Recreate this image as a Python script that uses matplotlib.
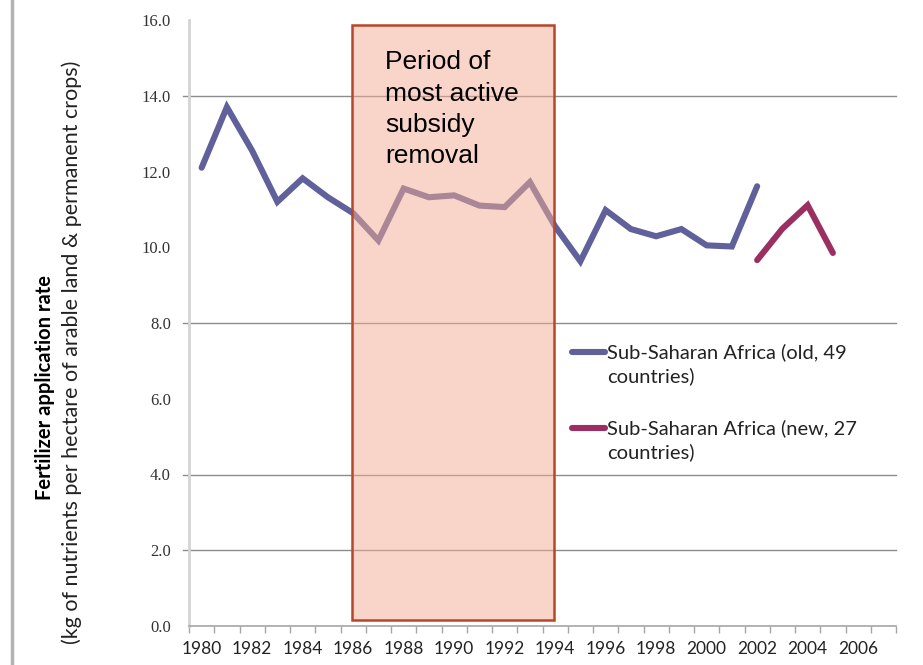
import numpy as np
import matplotlib.pyplot as plt
from matplotlib.patches import Rectangle
from matplotlib.lines import Line2D

years_old = list(range(1980, 2003))
rate_old = [12.1, 13.7, 12.55, 11.2, 11.82, 11.32, 10.9, 10.18, 11.55, 11.32, 11.37,
            11.1, 11.06, 11.72, 10.55, 9.63, 10.98, 10.48, 10.29, 10.48, 10.05, 10.02, 11.61]
years_new = [2002, 2003, 2004, 2005]
rate_new = [9.66, 10.49, 11.11, 9.85]
series_names = ['Sub-Saharan Africa (old, 49\ncountries)',
                'Sub-Saharan Africa (new, 27\ncountries)']
series_colors = ['#60609a', '#9c2f62']
ytick_vals = [0, 2, 4, 6, 8, 10, 12, 14, 16]
grid_vals = [2, 4, 8, 14]
xlabel_years = list(range(1980, 2007, 2))
period = (1985.95, 1993.95)   # subsidy removal shading, in years

plt.rcParams['hatch.color'] = '#fbe6de'
plt.rcParams['hatch.linewidth'] = 0.5

fig = plt.figure(figsize=(9.23, 6.65), dpi=100)
ax = fig.add_axes([189/923, 1-626/665, (896-189)/923, (626-20)/665])
ax.set_xlim(1979.5, 2007.5)
ax.set_ylim(0, 16)

# gridlines (only a few visible in the original)
for g in grid_vals:
    ax.plot([-0.009, 1], [g, g], transform=ax.get_yaxis_transform(),
            color='#8c8c8c', lw=1.0, clip_on=False, zorder=1)

ax.plot(years_old, rate_old, color=series_colors[0], lw=4.4,
        solid_capstyle='round', solid_joinstyle='miter', zorder=2)
ax.plot(years_new, rate_new, color=series_colors[1], lw=4.4,
        solid_capstyle='round', solid_joinstyle='miter', zorder=2)

ax.add_patch(Rectangle((period[0], 0.16), period[1]-period[0], 15.7,
                       facecolor=(0.96, 0.68, 0.58, 0.5), edgecolor='none',
                       hatch='++++', zorder=3))
ax.add_patch(Rectangle((period[0], 0.16), period[1]-period[0], 15.7,
                       facecolor='none', edgecolor='#b9462a', lw=1.8, zorder=4))

ax.text(period[0] + 1.32, 15.2, 'Period of\nmost active\nsubsidy\nremoval',
        family='Liberation Sans', fontsize=19, va='top', ha='left',
        linespacing=1.38, color='black', zorder=5)

# spines & ticks
for s in ['top', 'right']:
    ax.spines[s].set_visible(False)
ax.spines['left'].set_color('#d4d4d4')
ax.spines['left'].set_linewidth(2)
ax.spines['bottom'].set_color('#a6a6a6')
ax.spines['bottom'].set_linewidth(1.2)

ax.set_yticks(ytick_vals)
ax.set_yticklabels([f'{v:.1f}' for v in ytick_vals], family='Liberation Serif',
                   fontsize=12, color='#333333')
ax.tick_params(axis='y', length=0, pad=13)

ax.set_xticks(np.arange(1979.5, 2008, 1.0), minor=True)
ax.set_xticks(xlabel_years)
ax.set_xticklabels([str(y) for y in xlabel_years], family='Lato', fontsize=12.5,
                   color='#222222')
ax.tick_params(axis='x', which='major', length=0, pad=11)
ax.tick_params(axis='x', which='minor', length=5, color='#a6a6a6', width=1)

# y label, two lines
fig.text(45/923, 1-388/665, 'Fertilizer application rate', rotation=90,
         rotation_mode='anchor', ha='center', va='center', family='Lato',
         fontweight='bold', fontsize=14.5)
fig.text(72/923, 1-352/665,
         '(kg of nutrients per hectare of arable land & permanent crops)',
         rotation=90, rotation_mode='anchor', ha='center', va='center',
         family='Lato', fontsize=15.5, color='#222222')

# legend drawn by hand to match the layout
leg_y = [352, 428]
for name, col, yy in zip(series_names, series_colors, leg_y):
    fig.add_artist(Line2D([572/923, 605/923], [1-yy/665, 1-yy/665], color=col,
                          lw=4.4, solid_capstyle='round'))
    fig.text(607/923, 1-(yy-9)/665, name, family='Lato', fontsize=14.5,
             va='top', ha='left', linespacing=1.45, color='#222222')

# slide border line at left
fig.add_artist(Line2D([12/923, 12/923], [0, 1], color='#b3b3b3', lw=2.5))

fig.savefig('out.png', dpi=100)
